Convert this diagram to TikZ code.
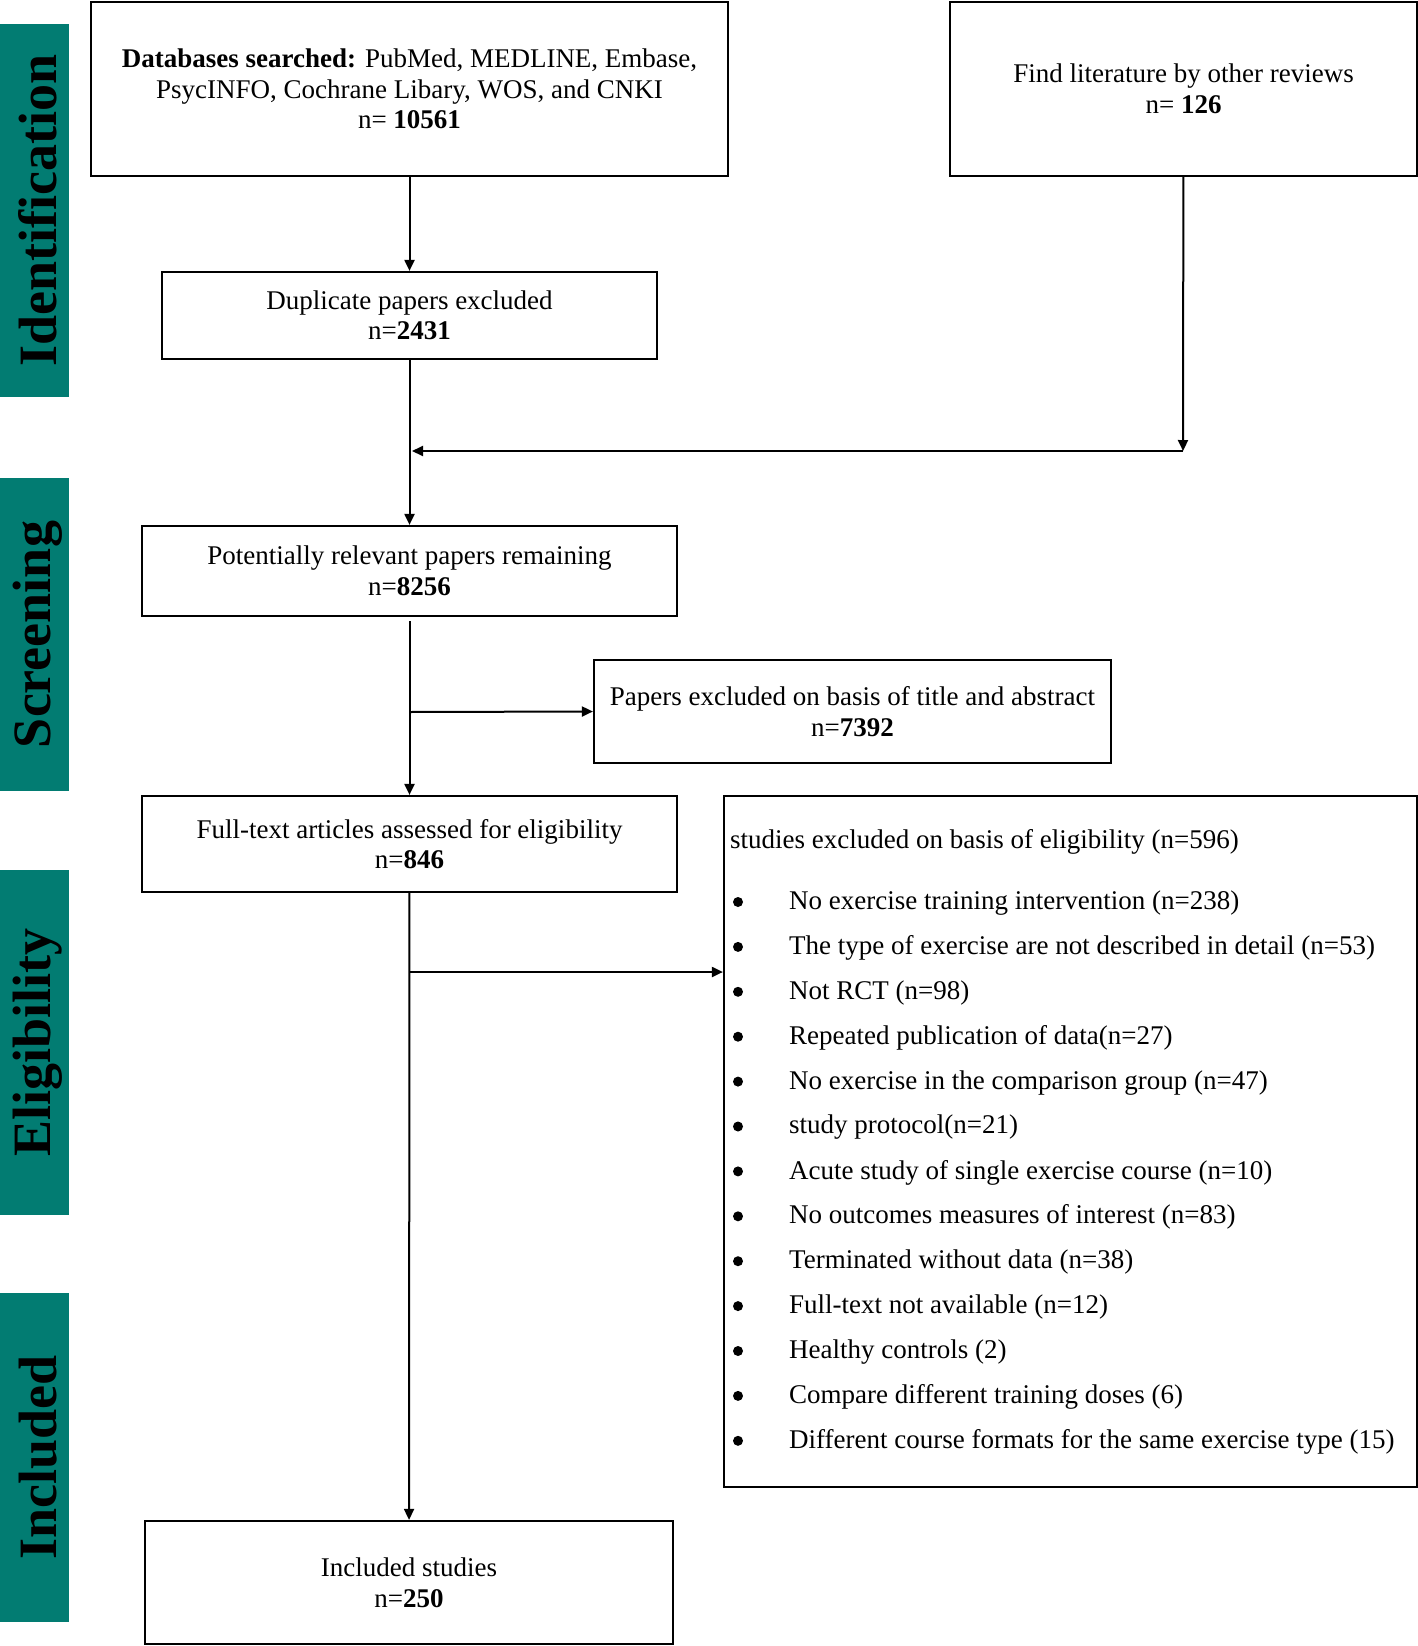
\documentclass[tikz,border=0pt]{standalone}
\usepackage{fontspec}
\setmainfont{Liberation Serif}
\usetikzlibrary{positioning,calc,arrows.meta}
\definecolor{stagegreen}{RGB}{2,124,114}
\newcommand*{\nb}[1]{\textbf{#1}}

\begin{document}
\begin{tikzpicture}[x=1pt,y=-1pt,
  box/.style={draw,line width=2.2pt,rectangle,inner sep=0pt,align=center,
    font=\fontsize{27}{30.5}\selectfont},
  stage/.style={fill=stagegreen,minimum width=69pt,inner sep=0pt},
  stagetext/.style={rotate=90,font=\fontsize{54}{54}\selectfont\bfseries},
  item/.style={anchor=west,inner sep=0pt,font=\fontsize{27}{30.5}\selectfont},
  dot/.style={circle,fill,inner sep=0pt,minimum size=10pt},
  arr/.style={line width=2pt,-{Triangle[length=11pt,width=10pt]}},
  ln/.style={line width=2pt}]
\useasboundingbox (0,0) rectangle (1418,1646);
% Stage bars on the left
\node[stage,minimum height=373pt] (sid) at (34.5,210.5) {};
\node[stage,minimum height=313pt] (ssc) at (34.5,634.5) {};
\node[stage,minimum height=345pt] (sel) at (34.5,1042.5) {};
\node[stage,minimum height=329pt] (sin) at (34.5,1457.5) {};
\node[stagetext] (tid) at (38,210.5) {Identification};
\node[stagetext] (tsc) at (38,634.5) {Screening};
\node[stagetext] (tel) at (38,1042.5) {Eligibility};
\node[stagetext] (tin) at (38,1457.5) {Included};
% Identification boxes
\node[box,minimum width=637pt,minimum height=174pt] (db) at (409.5,89)
  {\textbf{Databases searched:} PubMed, MEDLINE, Embase,\\
   PsycINFO, Cochrane Libary, WOS, and CNKI\\ n= \nb{10561}};
\node[box,minimum width=467pt,minimum height=174pt] (other) at (1183.5,89)
  {Find literature by other reviews\\ n= \nb{126}};
\node[box,minimum width=495pt,minimum height=87pt] (dup) at (409.5,315.5)
  {Duplicate papers excluded\\ n=\nb{2431}};
% Screening boxes
\node[box,minimum width=535pt,minimum height=90pt] (pot) at (409.5,571)
  {Potentially relevant papers remaining\\ n=\nb{8256}};
\node[box,minimum width=517pt,minimum height=103pt] (tit) at (852.5,711.5)
  {Papers excluded on basis of title and abstract\\ n=\nb{7392}};
% Eligibility boxes
\node[box,minimum width=535pt,minimum height=96pt] (full) at (409.5,844)
  {Full-text articles assessed for eligibility\\ n=\nb{846}};
\node[box,minimum width=693pt,minimum height=691pt] (excl) at (1070.5,1141.5) {};
\node[item] (exhead) at (730,842) {studies excluded on basis of eligibility (n=596)};
\foreach \txt [count=\k] in {No exercise training intervention (n=238),
  The type of exercise are not described in detail (n=53),
  Not RCT (n=98),
  Repeated publication of data(n=27),
  No exercise in the comparison group (n=47),
  study protocol(n=21),
  Acute study of single exercise course (n=10),
  No outcomes measures of interest (n=83),
  Terminated without data (n=38),
  Full-text not available (n=12),
  Healthy controls (2),
  Compare different training doses (6),
  Different course formats for the same exercise type (15)}
{
  \node[dot] (bul\k) at (738,{902+44.9*(\k-1)}) {};
  \node[item] (it\k) at (789,{903+44.9*(\k-1)}) {\txt};
}
% Included box
\node[box,minimum width=528pt,minimum height=123pt] (inc) at (409,1582.5)
  {Included studies\\ n=\nb{250}};
% Branch points
\coordinate (join) at (1183,451);
\coordinate (joinend) at (409,451);
\coordinate (br1) at (409,712);
\coordinate (br2) at (409,972);
% Connectors
\draw[arr] (db) -- (dup);
\draw[arr] (dup) -- (pot);
\draw[arr] (other) -- (join);
\draw[arr] (join) -- ([xshift=3pt]joinend);
\draw[arr,shorten <=4pt] (pot) -- (full);
\draw[arr] (br1) -- (tit.west);
\draw[arr] (full) -- (inc);
\draw[arr] (br2) -- (excl.west |- br2);
\end{tikzpicture}
\end{document}
